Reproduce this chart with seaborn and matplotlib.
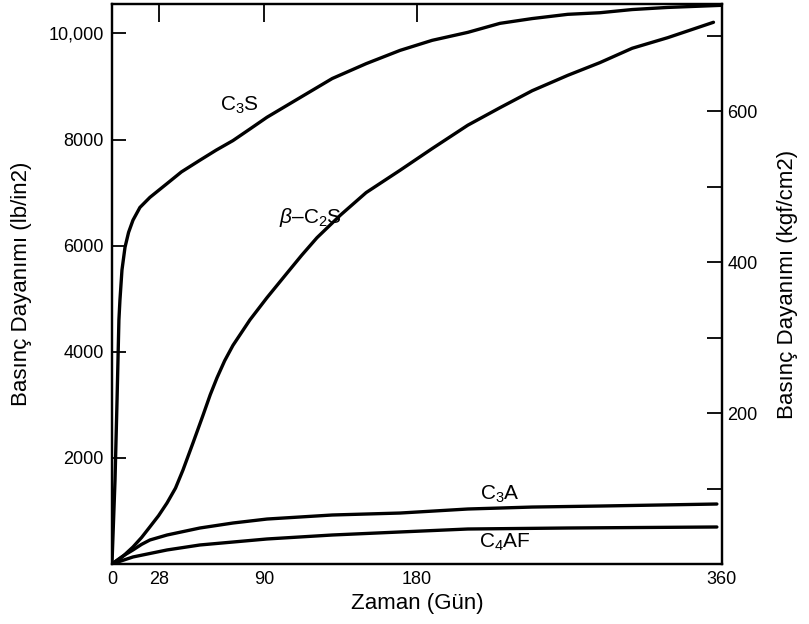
#!/usr/bin/env python3
"""
Compressive strength development of the cement compounds (C3S, b-C2S, C3A, C4AF).
Writes out.png
"""

import pandas as pd
import matplotlib
matplotlib.use('Agg')
import matplotlib.pyplot as plt
import seaborn as sns
from matplotlib.ticker import FixedLocator, FixedFormatter

# values (days, lb/in2)
days_c3s = [0, 1.8, 3.0, 4.1, 4.7, 5.9, 7.7, 9.8, 12.4, 16.5, 22.4, 32.5, 41.0, 51.9, 61.5,
            71.4, 81.5, 91.5, 111, 130, 150, 170, 189, 210, 229, 248, 269, 288, 307, 328, 360]
psi_c3s = [0, 1580, 3090, 4600, 4970, 5540, 5970, 6250, 6480, 6720, 6910, 7170, 7390, 7610,
           7800, 7980, 8200, 8420, 8790, 9150, 9430, 9680, 9870, 10020, 10190, 10280, 10360,
           10390, 10450, 10490, 10530]

days_c2s = [0, 6, 12.4, 17.5, 22.4, 27.5, 32.5, 37.5, 41.9, 47.8, 53.7, 58.0, 62.0, 66.5,
            71.4, 81.4, 91.5, 103, 112, 121, 135, 150, 170, 189, 210, 229, 248, 269, 288,
            307, 328, 355]
psi_c2s = [0, 130, 320, 500, 700, 910, 1150, 1430, 1770, 2280, 2800, 3190, 3510, 3830,
           4120, 4600, 5020, 5470, 5820, 6150, 6580, 7000, 7420, 7830, 8270, 8600, 8920,
           9210, 9450, 9720, 9920, 10210]

days_c3a = [0, 6, 12.4, 17.5, 22.4, 32.5, 51.9, 71.4, 91.5, 130, 170, 210, 248, 288, 357]
psi_c3a = [0, 140, 264, 370, 452, 546, 678, 772, 847, 923, 960, 1036, 1073, 1092, 1130]

days_c4af = [0, 12.4, 32.5, 51.9, 91.5, 130, 170, 210, 269, 357]
psi_c4af = [0, 132, 264, 358, 471, 546, 603, 659, 678, 697]

compounds = ['C3S', 'b-C2S', 'C3A', 'C4AF']
curve_labels = ['C$_3$S', r'$\beta$–C$_2$S', 'C$_3$A', 'C$_4$AF']
label_days = [75, 117, 229, 232]
label_psi = [8650, 6530, 1320, 400]

x_ticks = [0, 28, 90, 180, 360]
y_ticks = [2000, 4000, 6000, 8000, 10000]
y_tick_labels = ['2000', '4000', '6000', '8000', '10,000']
kgf_ticks = [100, 200, 300, 400, 500, 600, 700]
kgf_tick_labels = ['', '200', '', '400', '', '600', '']

PSI_PER_KGF = 14.223
PSI_MAX = 10550

df = pd.concat([
    pd.DataFrame({'gun': d, 'psi': p, 'bilesen': name})
    for name, d, p in zip(compounds,
                          [days_c3s, days_c2s, days_c3a, days_c4af],
                          [psi_c3s, psi_c2s, psi_c3a, psi_c4af])
])

sns.set_style('white')
plt.rcParams['font.family'] = ['Liberation Sans', 'DejaVu Sans']
plt.rcParams['mathtext.fontset'] = 'custom'
plt.rcParams['mathtext.rm'] = 'Liberation Sans'
plt.rcParams['mathtext.it'] = 'Liberation Sans:italic'
plt.rcParams['text.color'] = 'black'
plt.rcParams['axes.labelcolor'] = 'black'
plt.rcParams['xtick.color'] = 'black'
plt.rcParams['ytick.color'] = 'black'

fig = plt.figure(figsize=(8.09, 6.24), dpi=100)
ax = fig.add_axes([0.1384, 0.0962, 0.754, 0.897])

sns.lineplot(data=df, x='gun', y='psi', hue='bilesen', palette=['black'] * 4,
             estimator=None, legend=False, linewidth=2.4, ax=ax)
for ln in ax.get_lines():
    ln.set_solid_joinstyle('round')

for txt, xd, yd in zip(curve_labels, label_days, label_psi):
    ax.text(xd, yd, txt, fontsize=15, ha='center', va='center')

ax.set_xlim(0, 360)
ax.set_ylim(0, PSI_MAX)
ax.xaxis.set_major_locator(FixedLocator(x_ticks))
ax.xaxis.set_major_formatter(FixedFormatter([str(v) for v in x_ticks]))
ax.yaxis.set_major_locator(FixedLocator(y_ticks))
ax.yaxis.set_major_formatter(FixedFormatter(y_tick_labels))
ax.tick_params(axis='x', direction='in', length=13, width=1.3, top=True,
               labeltop=False, labelsize=13, pad=5)
ax.tick_params(axis='y', direction='in', length=10, width=1.3, right=False,
               labelsize=13, pad=6)
ax.set_xlabel('Zaman (Gün)', fontsize=16, labelpad=4)
ax.set_ylabel('Basınç Dayanımı (lb/in2)', fontsize=16, labelpad=12)

# right axis in kgf/cm2
ax2 = ax.twinx()
ax2.set_ylim(0, PSI_MAX / PSI_PER_KGF)
ax2.yaxis.set_major_locator(FixedLocator(kgf_ticks))
ax2.yaxis.set_major_formatter(FixedFormatter(kgf_tick_labels))
ax2.tick_params(axis='y', direction='in', length=11, width=1.3, labelsize=13, pad=4)
ax2.set_ylabel('Basınç Dayanımı (kgf/cm2)', fontsize=16, labelpad=14)

for a in (ax, ax2):
    for sp in a.spines.values():
        sp.set_visible(True)
        sp.set_color('black')
        sp.set_linewidth(1.6)

plt.savefig('out.png', dpi=100)
plt.close()
